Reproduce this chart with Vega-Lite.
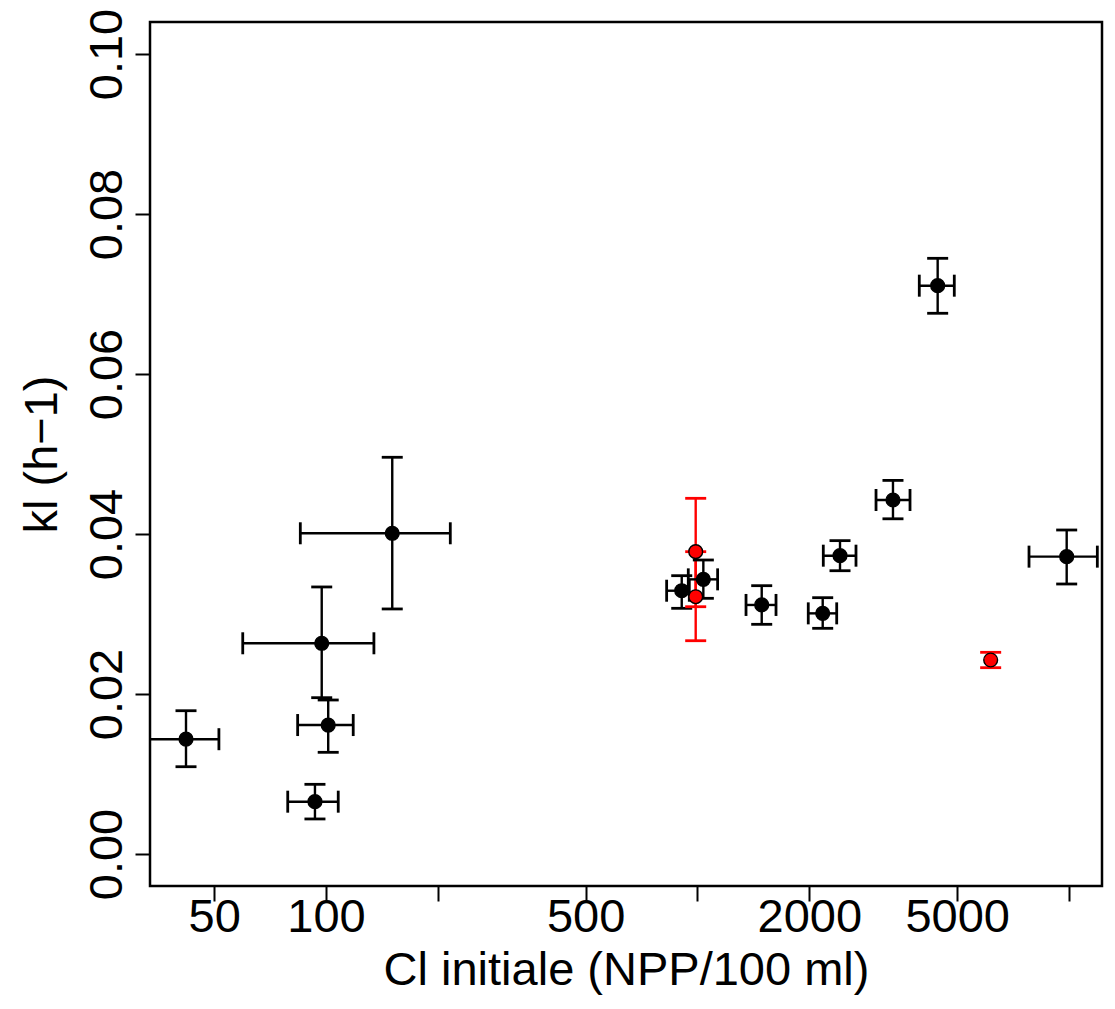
{
  "$schema": "https://vega.github.io/schema/vega-lite/v6.json",
  "width": 952,
  "height": 864,
  "autosize": {"type": "none"},
  "padding": {"left": 150, "top": 22, "right": 13, "bottom": 123},
  "background": "white",
  "config": {
    "view": {"stroke": "black", "strokeWidth": 2.5},
    "font": "Liberation Sans",
    "axisX": {
      "domain": false, "grid": false,
      "ticks": true, "tickColor": "black", "tickWidth": 2, "tickSize": 15,
      "labelFontSize": 47, "labelColor": "black", "labelFont": "Liberation Sans",
      "labelBaseline": "alphabetic", "labelPadding": 30, "labelFlush": false, "labelOverlap": false,
      "titleFontSize": 47, "titleFontWeight": "normal",
      "titleColor": "black", "titleFont": "Liberation Sans",
      "titleBaseline": "alphabetic", "titleAlign": "center", "titleX": 476, "titleY": 98
    },
    "axisY": {
      "domain": false, "grid": false,
      "ticks": true, "tickColor": "black", "tickWidth": 2, "tickSize": 15,
      "labelFontSize": 47, "labelColor": "black", "labelFont": "Liberation Sans",
      "labelAngle": -90, "labelAlign": "center", "labelBaseline": "alphabetic",
      "labelPadding": 14, "labelFlush": false, "labelOverlap": false,
      "titleFontSize": 47, "titleFontWeight": "normal",
      "titleColor": "black", "titleFont": "Liberation Sans",
      "titleAngle": -90, "titleAlign": "center", "titleBaseline": "alphabetic",
      "titleX": -94, "titleY": 432
    }
  },
  "data": {
    "values": [
      {"cl": 42.0, "clLo": 30, "clHi": 51.5, "kl": 0.01435, "klLo": 0.01091, "klHi": 0.01791, "serie": "A"},
      {"cl": 101.4, "clLo": 83.9, "clHi": 118.4, "kl": 0.01612, "klLo": 0.01271, "klHi": 0.01925, "serie": "A"},
      {"cl": 93.4, "clLo": 78.9, "clHi": 107.9, "kl": 0.00654, "klLo": 0.00438, "klHi": 0.00871, "serie": "A"},
      {"cl": 97.4, "clLo": 59.7, "clHi": 134.6, "kl": 0.02634, "klLo": 0.01954, "klHi": 0.03338, "serie": "A"},
      {"cl": 150.8, "clLo": 85.3, "clHi": 216.1, "kl": 0.04009, "klLo": 0.03063, "klHi": 0.04959, "serie": "A"},
      {"cl": 907, "clLo": 826, "clHi": 950.5, "kl": 0.03291, "klLo": 0.03071, "klHi": 0.03479, "serie": "A"},
      {"cl": 1037, "clLo": 944.6, "clHi": 1133, "kl": 0.03433, "klLo": 0.03196, "klHi": 0.03675, "serie": "A"},
      {"cl": 1489, "clLo": 1351, "clHi": 1627, "kl": 0.03113, "klLo": 0.02871, "klHi": 0.03354, "serie": "A"},
      {"cl": 2173, "clLo": 1987, "clHi": 2370, "kl": 0.03008, "klLo": 0.02821, "klHi": 0.03204, "serie": "A"},
      {"cl": 2419, "clLo": 2181, "clHi": 2671, "kl": 0.03729, "klLo": 0.03541, "klHi": 0.03917, "serie": "A"},
      {"cl": 3359, "clLo": 3024, "clHi": 3733, "kl": 0.04425, "klLo": 0.0419, "klHi": 0.0467, "serie": "A"},
      {"cl": 4431, "clLo": 3954, "clHi": 4912, "kl": 0.07104, "klLo": 0.06759, "klHi": 0.07446, "serie": "A"},
      {"cl": 9858, "clLo": 7805, "clHi": 11920, "kl": 0.03717, "klLo": 0.03375, "klHi": 0.0405, "serie": "A"},
      {"cl": 989, "clLo": null, "clHi": null, "kl": 0.03779, "klLo": 0.03091, "klHi": 0.04446, "serie": "B"},
      {"cl": 989, "clLo": null, "clHi": null, "kl": 0.03216, "klLo": 0.02666, "klHi": 0.03779, "serie": "B"},
      {"cl": 6154, "clLo": null, "clHi": null, "kl": 0.02425, "klLo": 0.02329, "klHi": 0.02521, "serie": "B"}
    ]
  },
  "layer": [
    {
      "mark": {"type": "rule", "strokeWidth": 2.4, "clip": true},
      "encoding": {
        "x": {"field": "cl", "type": "quantitative", "title": "Cl initiale (NPP/100 ml)", "scale": {"type": "log", "domain": [33.6, 12270], "nice": false}, "axis": {"values": [50, 100, 200, 500, 1000, 2000, 5000, 10000], "labelExpr": "datum.value == 200 || datum.value == 1000 || datum.value == 10000 ? '' : format(datum.value, 'd')"}},
        "y": {"field": "klLo", "type": "quantitative", "title": "kl (h−1)", "scale": {"domain": [-0.004, 0.104], "nice": false, "zero": false}, "axis": {"values": [0, 0.02, 0.04, 0.06, 0.08, 0.1], "format": ".2f"}},
        "y2": {"field": "klHi"},
        "color": {"field": "serie", "type": "nominal", "scale": {"domain": ["A", "B"], "range": ["black", "#FF0000"]}, "legend": null}
      }
    },
    {
      "transform": [{"filter": "isValid(datum.clLo)"}],
      "mark": {"type": "rule", "strokeWidth": 2.4, "clip": true},
      "encoding": {
        "x": {"field": "clLo", "type": "quantitative", "title": "Cl initiale (NPP/100 ml)", "scale": {"type": "log", "domain": [33.6, 12270], "nice": false}, "axis": {"values": [50, 100, 200, 500, 1000, 2000, 5000, 10000], "labelExpr": "datum.value == 200 || datum.value == 1000 || datum.value == 10000 ? '' : format(datum.value, 'd')"}},
        "x2": {"field": "clHi"},
        "y": {"field": "kl", "type": "quantitative", "title": "kl (h−1)", "scale": {"domain": [-0.004, 0.104], "nice": false, "zero": false}, "axis": {"values": [0, 0.02, 0.04, 0.06, 0.08, 0.1], "format": ".2f"}},
        "color": {"field": "serie", "type": "nominal", "scale": {"domain": ["A", "B"], "range": ["black", "#FF0000"]}, "legend": null}
      }
    },
    {
      "mark": {"type": "tick", "orient": "horizontal", "size": 21, "thickness": 2.8, "opacity": 1, "clip": true},
      "encoding": {
        "x": {"field": "cl", "type": "quantitative", "title": "Cl initiale (NPP/100 ml)", "scale": {"type": "log", "domain": [33.6, 12270], "nice": false}, "axis": {"values": [50, 100, 200, 500, 1000, 2000, 5000, 10000], "labelExpr": "datum.value == 200 || datum.value == 1000 || datum.value == 10000 ? '' : format(datum.value, 'd')"}},
        "y": {"field": "klLo", "type": "quantitative", "title": "kl (h−1)", "scale": {"domain": [-0.004, 0.104], "nice": false, "zero": false}, "axis": {"values": [0, 0.02, 0.04, 0.06, 0.08, 0.1], "format": ".2f"}},
        "color": {"field": "serie", "type": "nominal", "scale": {"domain": ["A", "B"], "range": ["black", "#FF0000"]}, "legend": null}
      }
    },
    {
      "mark": {"type": "tick", "orient": "horizontal", "size": 21, "thickness": 2.8, "opacity": 1, "clip": true},
      "encoding": {
        "x": {"field": "cl", "type": "quantitative", "title": "Cl initiale (NPP/100 ml)", "scale": {"type": "log", "domain": [33.6, 12270], "nice": false}, "axis": {"values": [50, 100, 200, 500, 1000, 2000, 5000, 10000], "labelExpr": "datum.value == 200 || datum.value == 1000 || datum.value == 10000 ? '' : format(datum.value, 'd')"}},
        "y": {"field": "klHi", "type": "quantitative", "title": "kl (h−1)", "scale": {"domain": [-0.004, 0.104], "nice": false, "zero": false}, "axis": {"values": [0, 0.02, 0.04, 0.06, 0.08, 0.1], "format": ".2f"}},
        "color": {"field": "serie", "type": "nominal", "scale": {"domain": ["A", "B"], "range": ["black", "#FF0000"]}, "legend": null}
      }
    },
    {
      "transform": [{"filter": "isValid(datum.clLo)"}],
      "mark": {"type": "tick", "orient": "vertical", "size": 22, "thickness": 2.8, "opacity": 1, "clip": true},
      "encoding": {
        "x": {"field": "clLo", "type": "quantitative", "title": "Cl initiale (NPP/100 ml)", "scale": {"type": "log", "domain": [33.6, 12270], "nice": false}, "axis": {"values": [50, 100, 200, 500, 1000, 2000, 5000, 10000], "labelExpr": "datum.value == 200 || datum.value == 1000 || datum.value == 10000 ? '' : format(datum.value, 'd')"}},
        "y": {"field": "kl", "type": "quantitative", "title": "kl (h−1)", "scale": {"domain": [-0.004, 0.104], "nice": false, "zero": false}, "axis": {"values": [0, 0.02, 0.04, 0.06, 0.08, 0.1], "format": ".2f"}},
        "color": {"field": "serie", "type": "nominal", "scale": {"domain": ["A", "B"], "range": ["black", "#FF0000"]}, "legend": null}
      }
    },
    {
      "transform": [{"filter": "isValid(datum.clLo)"}],
      "mark": {"type": "tick", "orient": "vertical", "size": 22, "thickness": 2.8, "opacity": 1, "clip": true},
      "encoding": {
        "x": {"field": "clHi", "type": "quantitative", "title": "Cl initiale (NPP/100 ml)", "scale": {"type": "log", "domain": [33.6, 12270], "nice": false}, "axis": {"values": [50, 100, 200, 500, 1000, 2000, 5000, 10000], "labelExpr": "datum.value == 200 || datum.value == 1000 || datum.value == 10000 ? '' : format(datum.value, 'd')"}},
        "y": {"field": "kl", "type": "quantitative", "title": "kl (h−1)", "scale": {"domain": [-0.004, 0.104], "nice": false, "zero": false}, "axis": {"values": [0, 0.02, 0.04, 0.06, 0.08, 0.1], "format": ".2f"}},
        "color": {"field": "serie", "type": "nominal", "scale": {"domain": ["A", "B"], "range": ["black", "#FF0000"]}, "legend": null}
      }
    },
    {
      "mark": {"type": "circle", "size": 190, "opacity": 1, "stroke": "black", "strokeWidth": 1.4},
      "encoding": {
        "x": {"field": "cl", "type": "quantitative", "title": "Cl initiale (NPP/100 ml)", "scale": {"type": "log", "domain": [33.6, 12270], "nice": false}, "axis": {"values": [50, 100, 200, 500, 1000, 2000, 5000, 10000], "labelExpr": "datum.value == 200 || datum.value == 1000 || datum.value == 10000 ? '' : format(datum.value, 'd')"}},
        "y": {"field": "kl", "type": "quantitative", "title": "kl (h−1)", "scale": {"domain": [-0.004, 0.104], "nice": false, "zero": false}, "axis": {"values": [0, 0.02, 0.04, 0.06, 0.08, 0.1], "format": ".2f"}},
        "fill": {"field": "serie", "type": "nominal", "scale": {"domain": ["A", "B"], "range": ["black", "#FF0000"]}, "legend": null}
      }
    }
  ]
}
